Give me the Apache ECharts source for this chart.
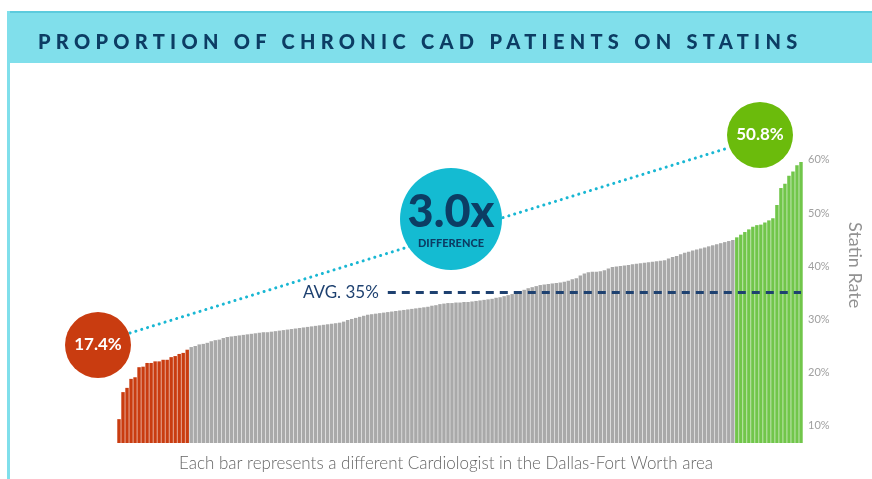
<!DOCTYPE html>
<html>
<head>
<meta charset="utf-8">
<script src="https://cdn.jsdelivr.net/npm/echarts@6/dist/echarts.min.js"></script>
<style>
  body { margin: 0; background: #fff; }
  #wrap { position: relative; width: 872px; height: 479px; }
  #chart { width: 872px; height: 479px; }
  #title {
    position: absolute; left: 38px; top: 29px;
    font-family: Lato, sans-serif; font-weight: 900; font-size: 20px;
    letter-spacing: 5.3px; color: #0c3d64; white-space: nowrap;
  }
</style>
</head>
<body>
<div id="wrap">
  <div id="chart"></div>
  <div id="title">PROPORTION OF CHRONIC CAD PATIENTS ON STATINS</div>
</div>
<script>
// statin rate per cardiologist (%), sorted; bottom group / middle / top group
var lowRates = [11.1, 16.2, 17.0, 18.7, 19.0, 20.9, 21.0, 21.7, 21.7, 22.0, 22.0, 22.3, 22.3, 22.8, 23.0, 23.4, 23.6, 24.2];
var midRates = [
    24.7, 24.9, 25.2, 25.3, 25.5, 25.8, 26.0, 26.1, 26.4, 26.6,
    26.7, 26.8, 26.9, 27.0, 27.1, 27.2, 27.3, 27.4, 27.5, 27.5,
    27.6, 27.7, 27.8, 27.9, 28.0, 28.1, 28.2, 28.3, 28.4, 28.5,
    28.6, 28.7, 28.8, 28.9, 29.0, 29.1, 29.2, 29.3, 29.5, 29.8,
    30.0, 30.2, 30.4, 30.6, 30.8, 30.9, 31.0, 31.1, 31.2, 31.3,
    31.4, 31.5, 31.6, 31.7, 31.8, 31.9, 32.0, 32.1, 32.2, 32.3,
    32.5, 32.6, 32.8, 32.9, 33.0, 33.0, 33.1, 33.1, 33.2, 33.2,
    33.3, 33.4, 33.5, 33.6, 33.7, 33.8, 34.0, 34.1, 34.3, 34.5,
    34.7, 34.9, 35.2, 35.5, 35.8, 36.0, 36.2, 36.4, 36.5, 36.6,
    36.7, 36.8, 36.9, 37.0, 37.2, 37.5, 37.7, 38.2, 38.6, 38.8,
    38.9, 38.9, 39.0, 39.2, 39.5, 39.8, 39.9, 40.0, 40.1, 40.2,
    40.3, 40.4, 40.5, 40.6, 40.7, 40.8, 40.9, 41.0, 41.1, 41.4,
    41.7, 41.9, 42.2, 42.5, 42.7, 42.9, 43.1, 43.3, 43.5, 43.7,
    43.9, 44.1, 44.3, 44.5, 44.7, 44.9
];
var highRates = [45.4, 45.9, 46.4, 46.9, 47.4, 47.7, 47.8, 48.2, 48.6, 49.0, 51.5, 54.7, 55.5, 57.0, 57.8, 59.0, 59.6];
var avgRate = 35;
var yTicks = [10, 20, 30, 40, 50, 60];

var chart = echarts.init(document.getElementById('chart'));

// one bar per cardiologist, coloured by group
var barData = [];
var cats = [];
lowRates.forEach(function (v) { barData.push({ value: v, itemStyle: { color: '#c93c10' } }); });
midRates.forEach(function (v) { barData.push({ value: v, itemStyle: { color: '#a9a9a9' } }); });
highRates.forEach(function (v) { barData.push({ value: v, itemStyle: { color: '#71c64a' } }); });
for (var i = 0; i < barData.length; i++) cats.push('Dr ' + (i + 1));

var option = {
    animation: false,
    grid: { left: 117, right: 69, top: 157.3, bottom: 36 },
    xAxis: {
        type: 'category',
        data: cats,
        axisLine: { show: false },
        axisTick: { show: false },
        axisLabel: { show: false }
    },
    yAxis: {
        type: 'value',
        position: 'right',
        min: 6.6,
        max: 60.5,
        splitLine: { show: false },
        axisLine: { show: false },
        axisTick: { show: false },
        axisLabel: {
            customValues: yTicks,
            formatter: '{value}%',
            color: '#a0a0a0',
            fontFamily: 'Lato',
            fontSize: 11,
            margin: 5
        },
        name: 'Statin Rate',
        nameLocation: 'middle',
        nameRotate: -90,
        nameGap: 43,
        nameTextStyle: { color: '#929292', fontFamily: 'Lato', fontSize: 18, padding: [0, 70, 0, 0] }
    },
    series: [{
        type: 'bar',
        data: barData,
        barCategoryGap: '14%',
        markLine: {
            silent: true,
            symbol: 'none',
            lineStyle: { color: '#1e4170', width: 3, type: [8, 6] },
            label: {
                position: 'start',
                distance: 9,
                formatter: 'AVG. 35%',
                color: '#1e4170',
                fontFamily: 'Lato',
                fontSize: 17
            },
            data: [[{ coord: [67, avgRate] }, { coord: [barData.length - 1, avgRate] }]]
        }
    }],
    graphic: [
        // header band and left border
        { type: 'rect', shape: { x: 10, y: 11, width: 862, height: 52 }, style: { fill: '#80dfeb' }, z: 1 },
        { type: 'rect', shape: { x: 10, y: 11, width: 862, height: 2 }, style: { fill: '#5ccbdd' }, z: 1 },
        { type: 'rect', shape: { x: 7, y: 11, width: 3, height: 468 }, style: { fill: '#80dfeb' }, z: 1 },
        // dotted connector
        {
            type: 'line', shape: { x1: 130, y1: 333, x2: 728, y2: 148 },
            style: { stroke: '#19b7d3', lineWidth: 3, lineDash: [0.1, 6], lineCap: 'round' }, z: 5
        },
        // bubbles
        { type: 'circle', shape: { cx: 98, cy: 345, r: 33 }, style: { fill: '#c93c10' }, z: 6 },
        { type: 'text', x: 98, y: 345, style: { text: '17.4%', fill: '#fff', font: 'bold 17px Lato', align: 'center', verticalAlign: 'middle' }, z: 7 },
        { type: 'circle', shape: { cx: 451, cy: 219, r: 51 }, style: { fill: '#14bbd2' }, z: 6 },
        { type: 'text', x: 451, y: 212, style: { text: '3.0x', fill: '#0c3d64', font: '900 45px Lato', align: 'center', verticalAlign: 'middle' }, z: 7 },
        { type: 'text', x: 451, y: 243, style: { text: 'DIFFERENCE', fill: '#0c3d64', font: '900 11px Lato', align: 'center', verticalAlign: 'middle' }, z: 7 },
        { type: 'circle', shape: { cx: 760, cy: 135, r: 33 }, style: { fill: '#6bbb0c' }, z: 6 },
        { type: 'text', x: 760, y: 135, style: { text: '50.8%', fill: '#fff', font: 'bold 17px Lato', align: 'center', verticalAlign: 'middle' }, z: 7 },
        // caption
        { type: 'text', x: 446, y: 464, style: { text: 'Each bar represents a different Cardiologist in the Dallas-Fort Worth area', fill: '#666', font: '300 17px Lato', align: 'center', verticalAlign: 'middle' }, z: 7 }
    ]
};

chart.setOption(option);
</script>
</body>
</html>
